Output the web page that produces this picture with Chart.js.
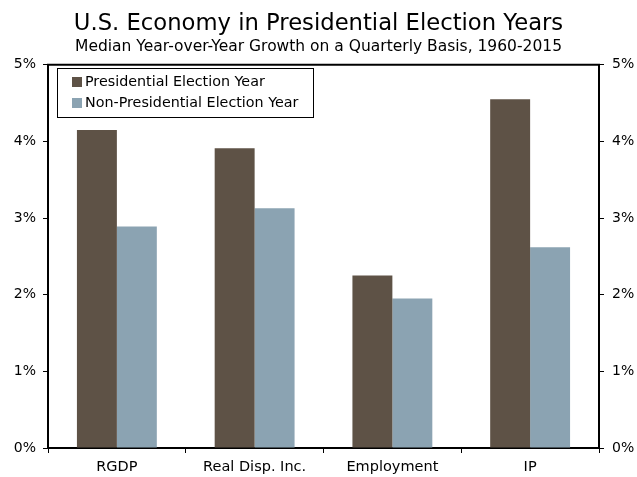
<!DOCTYPE html>
<html><head><meta charset="utf-8">
<script src="https://cdn.jsdelivr.net/npm/chart.js@4/dist/chart.umd.min.js"></script>
<style>html,body{margin:0;padding:0;background:#fff}#wrap{width:637px;height:477px}</style>
</head><body><div id="wrap"><canvas id="c" width="637" height="477"></canvas></div>
<script>
const categories = ["RGDP", "Real Disp. Inc.", "Employment", "IP"];
const presidential = [4.15, 3.91, 2.25, 4.55];
const nonPresidential = [2.89, 3.13, 1.95, 2.62];
const yTicks = [0, 1, 2, 3, 4, 5];
const FONT = "'DejaVu Sans', Verdana, sans-serif";

const boxPlugin = {
  id: 'boxLegend',
  afterDraw(chart) {
    const ctx = chart.ctx, a = chart.chartArea;
    ctx.save();
    ctx.strokeStyle = '#000'; ctx.lineWidth = 2;
    ctx.beginPath(); ctx.moveTo(a.left - 1, a.top); ctx.lineTo(a.right + 1, a.top); ctx.stroke();
    // legend box
    const x = 57, y = 68, w = 256, h = 49;
    ctx.lineWidth = 1; ctx.strokeStyle = '#000';
    ctx.strokeRect(x + 0.5, y + 0.5, w, h);
    ctx.font = '14.3px ' + FONT; ctx.textBaseline = 'middle'; ctx.fillStyle = '#000';
    chart.data.datasets.forEach((ds, i) => {
      const cy = y + 14 + i * 21;
      ctx.fillStyle = ds.backgroundColor;
      ctx.fillRect(x + 15, cy - 5, 10, 10);
      ctx.fillStyle = '#000';
      ctx.fillText(ds.label, x + 28, cy);
    });
    ctx.restore();
  }
};

new Chart(document.getElementById('c'), {
  type: 'bar',
  data: {
    labels: categories,
    datasets: [
      { label: 'Presidential Election Year', data: presidential, backgroundColor: '#5E5246', categoryPercentage: 0.58, barPercentage: 1.0, yAxisID: 'y' },
      { label: 'Non-Presidential Election Year', data: nonPresidential, backgroundColor: '#8BA3B2', categoryPercentage: 0.58, barPercentage: 1.0, yAxisID: 'y' }
    ]
  },
  options: {
    responsive: false, animation: false,
    layout: { padding: { top: 0, bottom: 0, left: 0, right: 0 } },
    plugins: {
      legend: { display: false },
      tooltip: { enabled: false },
      title: { display: true, text: 'U.S. Economy in Presidential Election Years', color: '#000', font: { family: FONT, size: 22.7, weight: 'normal' }, padding: { top: 10, bottom: 0 } },
      subtitle: { display: true, text: 'Median Year-over-Year Growth on a Quarterly Basis, 1960-2015', color: '#000', font: { family: FONT, size: 15.5, weight: 'normal' }, padding: { top: 0, bottom: 9 } }
    },
    scales: {
      x: {
        afterFit(s) { s.height = 29; },
        grid: { display: true, drawOnChartArea: false, drawTicks: true, tickLength: 5, color: '#000', offset: true },
        border: { color: '#000', width: 2 },
        ticks: { color: '#000', font: { family: FONT, size: 14.5 }, padding: 5.5 }
      },
      y: {
        position: 'left', min: 0, max: 5,
        afterBuildTicks(s) { s.ticks = yTicks.map(v => ({ value: v })); },
        afterFit(s) { s.width = 48; },
        grid: { display: true, drawOnChartArea: false, drawTicks: true, tickLength: 5, color: '#000' },
        border: { color: '#000', width: 2 },
        ticks: { color: '#000', font: { family: FONT, size: 14 }, padding: 7, callback: v => v + '%' }
      },
      y2: {
        position: 'right', min: 0, max: 5,
        afterBuildTicks(s) { s.ticks = yTicks.map(v => ({ value: v })); },
        afterFit(s) { s.width = 38; },
        grid: { display: true, drawOnChartArea: false, drawTicks: true, tickLength: 5, color: '#000' },
        border: { color: '#000', width: 2 },
        ticks: { color: '#000', font: { family: FONT, size: 14 }, padding: 8, callback: v => v + '%' }
      }
    }
  },
  plugins: [boxPlugin]
});
</script></body></html>
